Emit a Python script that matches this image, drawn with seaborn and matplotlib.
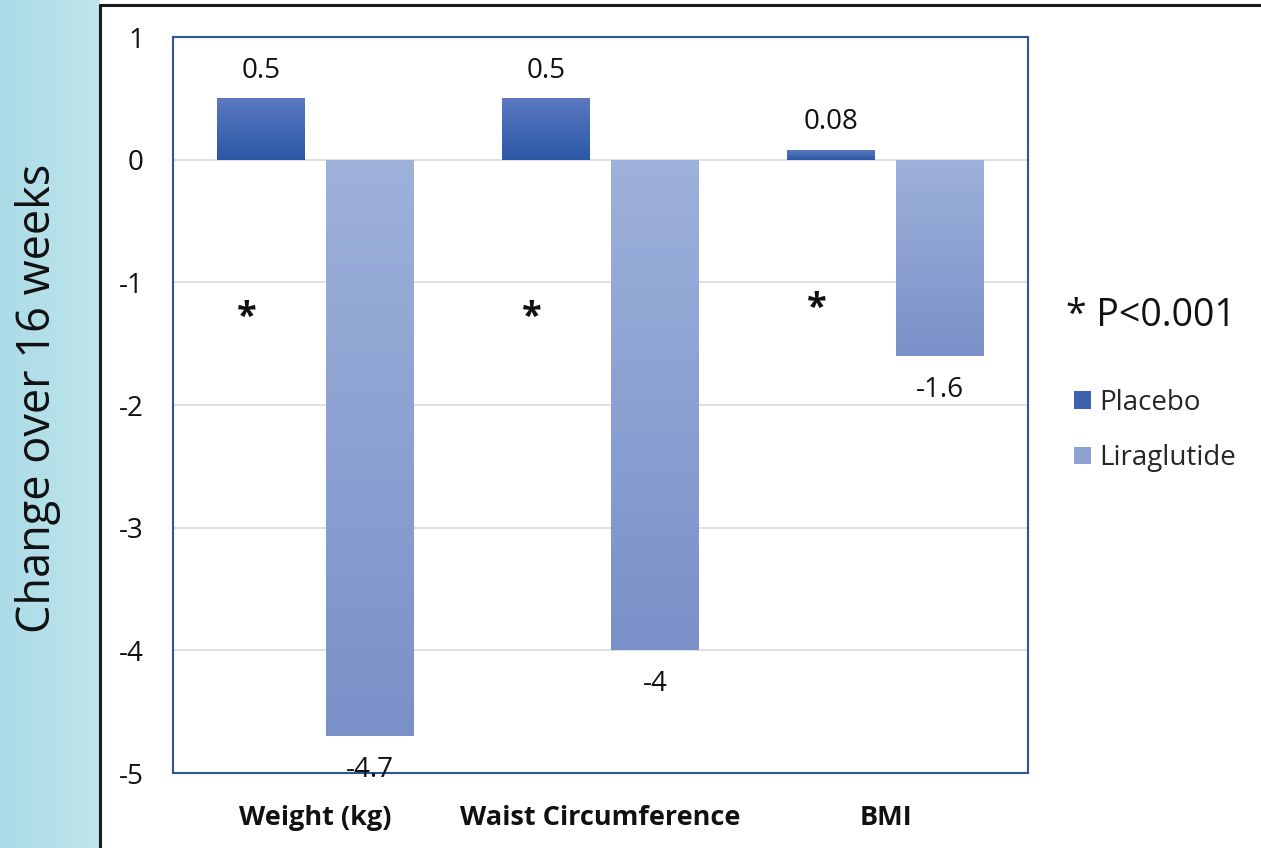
import numpy as np
import pandas as pd
import seaborn as sns
import matplotlib.pyplot as plt
from matplotlib.colors import LinearSegmentedColormap
from matplotlib.lines import Line2D
from matplotlib.patches import Patch

# Change over 16 weeks by measure and treatment arm
measures = ["Weight (kg)", "Waist Circumference", "BMI"]
groups = ["Placebo", "Liraglutide"]
placebo = [0.5, 0.5, 0.08]
liraglutide = [-4.7, -4.0, -1.6]
placebo_labels = ["0.5", "0.5", "0.08"]
liraglutide_labels = ["-4.7", "-4", "-1.6"]
star_y = [-1.29, -1.29, -1.22]
y_ticks = [1, 0, -1, -2, -3, -4, -5]

df = pd.DataFrame({
    "measure": measures * 2,
    "group": [groups[0]] * 3 + [groups[1]] * 3,
    "change": placebo + liraglutide,
})

sns.set_theme(style="white")
plt.rcParams["font.family"] = ["Open Sans", "DejaVu Sans"]

W, H = 1261, 848
fig = plt.figure(figsize=(W / 100, H / 100), dpi=100)
fig.patch.set_facecolor("white")


def fx(px):
    return px / W


def fy(py):
    return 1 - py / H


# light blue side strip
strip = fig.add_axes([0, 0, fx(100), 1])
strip.imshow(np.linspace(0, 1, 64).reshape(1, -1),
             cmap=LinearSegmentedColormap.from_list("strip", ["#abdbe7", "#bfe5ec"]),
             aspect="auto", extent=[0, 1, 0, 1])
strip.set_axis_off()

# panel frame
fig.add_artist(Line2D([fx(100), fx(100)], [0, fy(5)], color="#1a1a1a", lw=2.2))
fig.add_artist(Line2D([fx(100), 1], [fy(5), fy(5)], color="#1a1a1a", lw=2.2))

ax = fig.add_axes([fx(173), fy(773), fx(1028) - fx(173), fy(37) - fy(773)])

palette = {"Placebo": "#3a62b0", "Liraglutide": "#8ea3d4"}
sns.barplot(data=df, x="measure", y="change", hue="group", hue_order=groups,
            order=measures, palette=palette, width=0.77, gap=0.2,
            linewidth=0, legend=False, ax=ax, zorder=3)

# vertical gradient fill inside each bar
gradients = {"Placebo": ("#5b79bf", "#2a57a7"), "Liraglutide": ("#9eb1db", "#7a90c8")}
grad = np.linspace(0, 1, 256).reshape(-1, 1)
for grp, cont in zip(groups, ax.containers):
    cmap = LinearSegmentedColormap.from_list(grp, list(gradients[grp]))
    for bar in cont:
        x0, w = bar.get_x(), bar.get_width()
        y0, h = bar.get_y(), bar.get_height()
        ybot, ytop = min(y0, y0 + h), max(y0, y0 + h)
        im = ax.imshow(grad, cmap=cmap, extent=[x0, x0 + w, ybot, ytop],
                       origin="upper", aspect="auto", zorder=4)
        im.set_clip_path(bar)
ax.set_ylim(-5, 1)
ax.set_xlim(-0.5, 2.5)

# value labels
for bar, lab in zip(ax.containers[0], placebo_labels):
    ax.annotate(lab, (bar.get_x() + bar.get_width() / 2, bar.get_height()),
                xytext=(0, 20), textcoords="offset points", ha="center", va="center",
                fontsize=20, color="#111111", zorder=6)
for bar, lab in zip(ax.containers[1], liraglutide_labels):
    ax.annotate(lab, (bar.get_x() + bar.get_width() / 2, bar.get_height()),
                xytext=(0, -24.5), textcoords="offset points", ha="center", va="center",
                fontsize=20, color="#111111", zorder=6)

# significance markers
for bar, sy in zip(ax.containers[0], star_y):
    ax.text(bar.get_x() + bar.get_width() / 2 - 0.05, sy, "*", ha="center", va="center",
            fontsize=26, fontweight="bold", color="#111111", zorder=6)

ax.set_yticks(y_ticks)
ax.set_yticklabels([str(t) for t in y_ticks])
ax.grid(axis="y", color="#d9dde5", lw=1.3, zorder=0)
ax.grid(axis="x", visible=False)
ax.tick_params(axis="y", length=0, pad=21, labelsize=20, labelcolor="#111111")
ax.tick_params(axis="x", length=0, pad=23, labelsize=19.5, labelcolor="#111111")
for t in ax.get_xticklabels():
    t.set_fontweight("bold")
ax.set_xlabel("")
ax.set_ylabel("")
for sp in ax.spines.values():
    sp.set_color("#2f5597")
    sp.set_linewidth(1.5)
    sp.set_visible(True)
ax.set_facecolor("white")

fig.text(fx(38), fy(398), "Change over 16 weeks", rotation=90, ha="center", va="center",
         fontsize=32.5, color="#111111")
fig.text(fx(1066), fy(316), "* P<0.001", ha="left", va="center", fontsize=27, color="#111111")

handles = [Patch(facecolor=palette[g], edgecolor="none", label=g) for g in groups]
fig.legend(handles=handles, loc="upper left", bbox_to_anchor=(fx(1074), fy(389)),
           frameon=False, fontsize=20, handlelength=0.61, handleheight=0.61,
           handletextpad=0.29, labelspacing=0.98, borderpad=0, borderaxespad=0)

fig.savefig("out.png", dpi=100, facecolor="white")
